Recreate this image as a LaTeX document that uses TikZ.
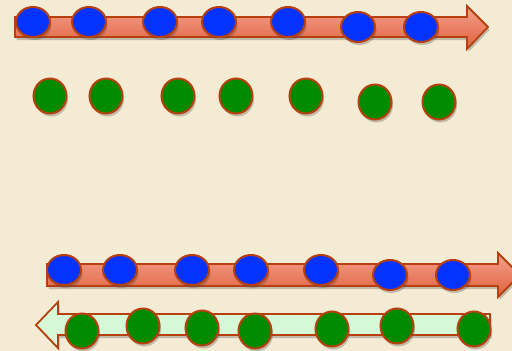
\documentclass[tikz,border=0pt]{standalone}
\usetikzlibrary{shapes.geometric,shadows}
\definecolor{parch}{HTML}{F4EBD4}
\definecolor{rimred}{HTML}{B8400E}
\definecolor{ballblue}{HTML}{0433FF}
\definecolor{ballgreen}{HTML}{008A00}
\definecolor{salmonlight}{HTML}{F4A18C}
\definecolor{salmondark}{HTML}{E0603E}
\definecolor{mint}{HTML}{D6F8D6}
\tikzset{
  softshadow/.style={drop shadow={opacity=0.3,shadow xshift=1.5pt,shadow yshift=-3pt,fill=black!70}},
  blueball/.style={ellipse,draw=rimred,line width=2pt,fill=ballblue,minimum width=34pt,minimum height=30pt,inner sep=0pt,softshadow},
  greenball/.style={ellipse,draw=rimred,line width=2pt,fill=ballgreen,minimum width=33pt,minimum height=35pt,inner sep=0pt,softshadow},
  redarrow/.style={draw=rimred,line width=1.8pt,top color=salmonlight,bottom color=salmondark,line join=miter,softshadow},
  greenarrow/.style={draw=rimred,line width=1.8pt,fill=mint,line join=miter,softshadow}
}
\begin{document}
\begin{tikzpicture}[x=1pt,y=-1pt]
\clip (0,0) rectangle (512,351);
\fill[parch] (0,0) rectangle (512,351);
% top arrow
\path[redarrow] (15,17) -- (467,17) -- (467,6) -- (488,27) -- (467,49) -- (467,37) -- (15,37) -- cycle;
\foreach \n/\x/\y in {1/33/22,2/89/22,3/160/22,4/219/22,5/288/22,6/358/27,7/421/27}
  \node[blueball] (ta\n) at (\x,\y) {};
% middle green balls
\foreach \n/\x/\y in {1/50/96,2/106/96,3/178/96,4/236/96,5/306/96,6/375/102,7/439/102}
  \node[greenball] (mg\n) at (\x,\y) {};
% bottom blue arrow
\path[redarrow] (47,264) -- (498,264) -- (498,253) -- (520,275) -- (498,297) -- (498,286) -- (47,286) -- cycle;
\foreach \n/\x/\y in {1/64/270,2/120/270,3/192/270,4/251/270,5/321/270,6/390/275,7/453/275}
  \node[blueball] (ba\n) at (\x,\y) {};
% bottom green arrow
\path[greenarrow] (490,314) -- (58,314) -- (58,302) -- (36,325) -- (58,348) -- (58,335) -- (490,335) -- cycle;
\foreach \n/\x/\y in {1/82/331,2/143/326,3/202/328,4/255/331,5/332/329,6/397/326,7/474/329}
  \node[greenball] (bg\n) at (\x,\y) {};
\end{tikzpicture}
\end{document}
